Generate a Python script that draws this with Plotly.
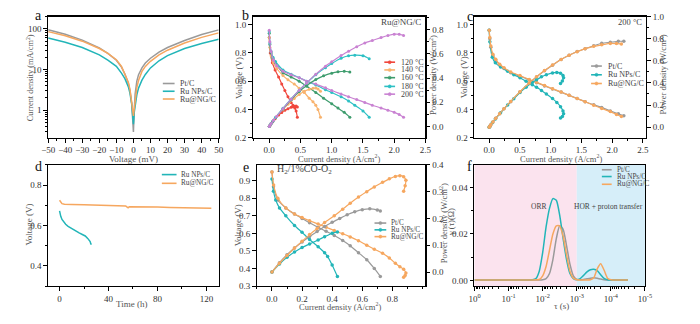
import plotly.graph_objects as go

W, H = 700, 324
FONT = "Liberation Serif"
TICK_C = "#333333"
TITLE_C = "#555555"

GRAY = "#9a9a9a"
TEAL = "#22b5b8"
ORANGE = "#f6a75f"

# ---------------- panel a : symmetric cell polarization ----------------
a_voltage = [-50, -40, -30, -20, -15, -10, -7, -5, -3, -2, -1, -0.5, 0,
             0.5, 1, 2, 3, 5, 7, 10, 15, 20, 30, 40, 50]
a_pt = [95, 74, 53, 34, 25, 17, 11.5, 7.8, 4.6, 3.0, 1.5, 0.8, 0.29,
        1.0, 2.5, 5.2, 7.5, 11, 14.5, 19, 27, 35, 52, 73, 95]
a_runp = [60, 47, 35, 23, 17, 12, 8.2, 6.0, 3.8, 2.6, 1.4, 0.9, 0.45,
          0.9, 1.3, 2.4, 3.5, 5.5, 7.6, 11, 16.5, 22, 33, 44, 56]
a_rung = [86, 68, 50, 33, 25, 17.5, 12, 8.0, 4.9, 3.2, 1.7, 1.1, 0.72,
          1.1, 1.9, 3.6, 5.4, 9.0, 12, 16, 23, 30, 45, 62, 80]

# ---------------- panel b : Ru@NG/C at different temperatures ----------------
b_j120 = [0, 0.016, 0.05, 0.094, 0.15, 0.2, 0.25, 0.3, 0.35, 0.38, 0.41, 0.43, 0.45]
b_v120 = [0.91, 0.80, 0.73, 0.68, 0.63, 0.58, 0.535, 0.49, 0.45, 0.43, 0.41, 0.39, 0.345]
b_p120 = [0, 0.013, 0.037, 0.064, 0.095, 0.116, 0.134, 0.147, 0.158, 0.163, 0.168, 0.170, 0.160]

b_j140 = [0, 0.01, 0.03, 0.068, 0.12, 0.22, 0.3, 0.4, 0.48, 0.56, 0.64, 0.7, 0.745, 0.78, 0.82]
b_v140 = [0.91, 0.84, 0.78, 0.73, 0.69, 0.64, 0.61, 0.58, 0.55, 0.52, 0.48, 0.455, 0.43, 0.40, 0.345]
b_p140 = [0, 0.008, 0.023, 0.050, 0.083, 0.141, 0.183, 0.232, 0.264, 0.291, 0.307, 0.315, 0.317, 0.31, 0.29]

b_j160 = [0, 0.01, 0.03, 0.06, 0.1, 0.22, 0.35, 0.48, 0.6, 0.745, 0.87, 1.0, 1.1, 1.2, 1.29]
b_v160 = [0.94, 0.86, 0.80, 0.76, 0.73, 0.66, 0.63, 0.60, 0.565, 0.52, 0.48, 0.44, 0.41, 0.38, 0.345]
b_p160 = [0, 0.009, 0.024, 0.046, 0.073, 0.145, 0.22, 0.288, 0.339, 0.387, 0.418, 0.44, 0.451, 0.456, 0.450]

b_j180 = [0, 0.01, 0.03, 0.06, 0.1, 0.22, 0.35, 0.48, 0.6, 0.745, 0.9, 1.0, 1.15, 1.27, 1.37, 1.5, 1.6]
b_v180 = [0.95, 0.87, 0.81, 0.77, 0.74, 0.68, 0.65, 0.625, 0.60, 0.573, 0.54, 0.52, 0.49, 0.46, 0.43, 0.39, 0.345]
b_p180 = [0, 0.009, 0.024, 0.046, 0.074, 0.150, 0.228, 0.30, 0.36, 0.427, 0.486, 0.52, 0.564, 0.584, 0.589, 0.585, 0.56]

b_j200 = [0, 0.01, 0.03, 0.068, 0.12, 0.22, 0.35, 0.48, 0.6, 0.745, 0.9, 1.0, 1.15, 1.27,
          1.4, 1.53, 1.65, 1.79, 1.9, 2.0, 2.08, 2.15]
b_v200 = [0.96, 0.88, 0.81, 0.75, 0.71, 0.67, 0.645, 0.625, 0.60, 0.58, 0.553, 0.534, 0.51, 0.49,
          0.47, 0.45, 0.43, 0.41, 0.395, 0.38, 0.365, 0.345]
b_p200 = [0, 0.009, 0.024, 0.051, 0.085, 0.147, 0.226, 0.30, 0.36, 0.432, 0.498, 0.534, 0.587, 0.622,
          0.658, 0.689, 0.71, 0.734, 0.751, 0.762, 0.761, 0.752]

# ---------------- panel c : 200 °C comparison ----------------
c_j_pt = [0, 0.01, 0.026, 0.06, 0.106, 0.17, 0.24, 0.35, 0.5, 0.65, 0.77, 0.9, 1.03, 1.17,
          1.3, 1.43, 1.56, 1.7, 1.83, 1.97, 2.1, 2.19]
c_v_pt = [0.96, 0.90, 0.84, 0.78, 0.75, 0.715, 0.69, 0.66, 0.636, 0.61, 0.59, 0.567, 0.545, 0.523,
          0.50, 0.478, 0.455, 0.433, 0.415, 0.39, 0.37, 0.355]
c_p_pt = [0, 0.009, 0.022, 0.047, 0.080, 0.122, 0.166, 0.231, 0.318, 0.397, 0.454, 0.510, 0.561, 0.612,
          0.65, 0.684, 0.71, 0.736, 0.759, 0.768, 0.777, 0.777]

c_j_ng = [0, 0.01, 0.026, 0.06, 0.106, 0.17, 0.24, 0.35, 0.5, 0.65, 0.77, 0.9, 1.03, 1.17,
          1.3, 1.43, 1.56, 1.7, 1.83, 1.97, 2.07, 2.15]
c_v_ng = [0.96, 0.91, 0.85, 0.79, 0.755, 0.72, 0.695, 0.665, 0.64, 0.613, 0.593, 0.57, 0.547, 0.524,
          0.50, 0.477, 0.455, 0.43, 0.407, 0.385, 0.365, 0.35]
c_p_ng = [0, 0.009, 0.022, 0.047, 0.080, 0.122, 0.167, 0.233, 0.32, 0.399, 0.457, 0.513, 0.563, 0.613,
          0.65, 0.682, 0.71, 0.731, 0.745, 0.758, 0.756, 0.753]

c_j_np = [0, 0.01, 0.05, 0.1, 0.185, 0.3, 0.4, 0.5, 0.6, 0.7, 0.77, 0.85, 0.93, 1.03,
          1.1, 1.16, 1.2, 1.21, 1.19, 1.16]
c_v_np = [0.96, 0.88, 0.77, 0.73, 0.70, 0.67, 0.645, 0.625, 0.60, 0.575, 0.557, 0.535, 0.51, 0.477,
          0.45, 0.42, 0.39, 0.37, 0.35, 0.34]
c_p_np = [0, 0.009, 0.039, 0.073, 0.130, 0.201, 0.258, 0.313, 0.36, 0.403, 0.429, 0.455, 0.474, 0.491,
          0.495, 0.487, 0.468, 0.448, 0.417, 0.394]

# ---------------- panel d : durability ----------------
d_t_np = [0, 0.5, 1, 2, 3, 5, 7, 10, 13, 16, 19, 21, 23, 24, 25, 25.5, 26]
d_v_np = [0.672, 0.655, 0.645, 0.63, 0.62, 0.606, 0.596, 0.584, 0.573, 0.563, 0.554, 0.548,
          0.536, 0.530, 0.52, 0.51, 0.505]
d_t_ng = [0, 1, 2, 4, 6, 10, 20, 30, 40, 50, 54, 55, 56, 57, 60, 70, 80, 90, 100, 110, 124]
d_v_ng = [0.725, 0.715, 0.708, 0.705, 0.704, 0.704, 0.703, 0.702, 0.700, 0.698, 0.697, 0.692,
          0.688, 0.693, 0.693, 0.692, 0.691, 0.689, 0.687, 0.686, 0.685]

# ---------------- panel e : H2/1%CO-O2 ----------------
e_j_pt = [0, 0.01, 0.039, 0.092, 0.15, 0.2, 0.25, 0.307, 0.36, 0.414, 0.47, 0.52, 0.575, 0.63, 0.68, 0.72]
e_v_pt = [0.95, 0.865, 0.79, 0.745, 0.71, 0.685, 0.66, 0.634, 0.612, 0.588, 0.56, 0.53, 0.49, 0.45, 0.40, 0.355]
e_jp_pt = [0, 0.05, 0.1, 0.15, 0.2, 0.25, 0.3, 0.35, 0.4, 0.45, 0.5, 0.55, 0.6, 0.65, 0.7, 0.72]
e_p_pt = [0, 0.035, 0.065, 0.09, 0.112, 0.133, 0.152, 0.17, 0.186, 0.2, 0.214, 0.225, 0.233, 0.236, 0.232, 0.228]

e_j_np = [0, 0.01, 0.025, 0.05, 0.092, 0.15, 0.2, 0.25, 0.307, 0.35, 0.37, 0.4, 0.435]
e_v_np = [0.91, 0.84, 0.79, 0.745, 0.70, 0.645, 0.606, 0.565, 0.524, 0.49, 0.468, 0.42, 0.354]
e_jp_np = [0, 0.05, 0.1, 0.15, 0.2, 0.25, 0.307, 0.35, 0.4, 0.435]
e_p_np = [0, 0.03, 0.055, 0.075, 0.092, 0.105, 0.12, 0.132, 0.145, 0.15]

e_j_ng = [0, 0.011, 0.039, 0.092, 0.15, 0.2, 0.25, 0.307, 0.36, 0.414, 0.47, 0.52, 0.575, 0.63,
          0.68, 0.735, 0.78, 0.82, 0.85, 0.875, 0.89, 0.885, 0.875]
e_v_ng = [0.95, 0.875, 0.80, 0.745, 0.71, 0.69, 0.672, 0.653, 0.635, 0.616, 0.598, 0.58, 0.558, 0.533,
          0.51, 0.487, 0.46, 0.43, 0.41, 0.395, 0.375, 0.36, 0.35]
e_jp_ng = [0, 0.05, 0.1, 0.15, 0.2, 0.25, 0.3, 0.35, 0.414, 0.47, 0.52, 0.575, 0.63, 0.68,
           0.735, 0.78, 0.82, 0.85, 0.875, 0.89, 0.885, 0.875]
e_p_ng = [0, 0.033, 0.062, 0.09, 0.115, 0.14, 0.163, 0.185, 0.21, 0.235, 0.257, 0.28, 0.3, 0.318,
          0.335, 0.348, 0.357, 0.36, 0.356, 0.343, 0.322, 0.302]

# ---------------- panel f : DRT ----------------
f_log_tau = [0, -0.5, -1.0, -1.5, -1.7, -1.8, -1.9, -2.0, -2.1, -2.2, -2.3, -2.4, -2.5, -2.6, -2.7,
             -2.8, -2.9, -3.0, -3.1, -3.2, -3.3, -3.4, -3.5, -3.6, -3.7, -3.8, -3.9, -4.0, -4.2, -4.5]
f_pt = [0.0002, 0.0002, 0.0002, 0.0002, 0.0002, 0.0002, 0.0002, 0.0003, 0.0008, 0.003, 0.009, 0.018,
        0.0235, 0.022, 0.015, 0.007, 0.002, 0.0005, 0.0003, 0.0004, 0.0007, 0.001, 0.0012, 0.001,
        0.0006, 0.0003, 0.0002, 0.0002, 0.0002, 0.0002]
f_np = [0.0002, 0.0002, 0.0002, 0.0002, 0.0003, 0.0008, 0.004, 0.012, 0.023, 0.031, 0.0352, 0.0345,
        0.028, 0.018, 0.009, 0.003, 0.0008, 0.0003, 0.0008, 0.0022, 0.0037, 0.0046, 0.0048, 0.0042,
        0.0025, 0.0009, 0.0003, 0.0002, 0.0002, 0.0002]
f_ng = [0.0002, 0.0002, 0.0002, 0.0002, 0.0002, 0.0003, 0.0004, 0.002, 0.006, 0.013, 0.020, 0.0235,
        0.0235, 0.019, 0.011, 0.004, 0.001, 0.0003, 0.0002, 0.0002, 0.0002, 0.0003, 0.0012, 0.005,
        0.0072, 0.0045, 0.001, 0.0003, 0.0002, 0.0002]
f_tau = [10 ** v for v in f_log_tau]

# ---------------- layout helpers ----------------
def fx(x):
    return x / W


def fy(y):
    return 1 - y / H


def dom_x(a, b):
    return [fx(a), fx(b)]


def dom_y(top, bottom):
    return [fy(bottom), fy(top)]


TOP = dom_y(12, 137)
BOT = dom_y(165, 290)


def ax(**kw):
    d = dict(showline=True, linecolor="black", linewidth=1.4, mirror=True, ticks="outside",
             ticklen=3.5, tickwidth=1, tickcolor="black", showgrid=False, zeroline=False,
             tickfont=dict(family=FONT, size=9, color=TICK_C))
    d.update(kw)
    return d


fig = go.Figure()


def line(x, y, color, xa, ya, width=1.5, markers=False, shape="linear", msize=3.5):
    fig.add_trace(go.Scatter(
        x=x, y=y, xaxis=xa, yaxis=ya, showlegend=False,
        mode="lines+markers" if markers else "lines",
        line=dict(color=color, width=width, shape=shape, smoothing=0.6),
        marker=dict(size=msize, color=color),
        hoverinfo="skip"))


# panel a
line(a_voltage, a_pt, GRAY, "x", "y")
line(a_voltage, a_runp, TEAL, "x", "y")
line(a_voltage, a_rung, ORANGE, "x", "y")

# panel b
b_sets = [("120 °C", "#f0473d", b_j120, b_v120, b_p120),
          ("140 °C", "#f8b36e", b_j140, b_v140, b_p140),
          ("160 °C", "#3e9c6d", b_j160, b_v160, b_p160),
          ("180 °C", "#2cc0c4", b_j180, b_v180, b_p180),
          ("200 °C", "#c982d2", b_j200, b_v200, b_p200)]
for name, col, j, v, p in b_sets:
    line(j, v, col, "x2", "y2", width=1.2, markers=True, shape="spline", msize=3)
    line(j, p, col, "x2", "y3", width=1.2, markers=True, shape="spline", msize=3)

# panel c
for col, j, v, p in [(GRAY, c_j_pt, c_v_pt, c_p_pt), (TEAL, c_j_np, c_v_np, c_p_np),
                     (ORANGE, c_j_ng, c_v_ng, c_p_ng)]:
    line(j, v, col, "x3", "y4", width=1.2, markers=True, shape="spline", msize=3.5)
    line(j, p, col, "x3", "y5", width=1.2, markers=True, shape="spline", msize=3.5)

# panel d
line(d_t_np, d_v_np, TEAL, "x4", "y6")
line(d_t_ng, d_v_ng, ORANGE, "x4", "y6")

# panel e
line(e_j_pt, e_v_pt, GRAY, "x5", "y7", width=1.2, markers=True, shape="spline", msize=3.5)
line(e_jp_pt, e_p_pt, GRAY, "x5", "y8", width=1.2, markers=True, shape="spline", msize=3.5)
line(e_j_np, e_v_np, TEAL, "x5", "y7", width=1.2, markers=True, shape="spline", msize=3.5)
line(e_jp_np, e_p_np, TEAL, "x5", "y8", width=1.2, markers=True, shape="spline", msize=3.5)
line(e_j_ng, e_v_ng, ORANGE, "x5", "y7", width=1.2, markers=True, shape="spline", msize=3.5)
line(e_jp_ng, e_p_ng, ORANGE, "x5", "y8", width=1.2, markers=True, shape="spline", msize=3.5)

# panel f
line(f_tau, f_pt, GRAY, "x6", "y9", shape="spline")
line(f_tau, f_np, TEAL, "x6", "y9", shape="spline")
line(f_tau, f_ng, ORANGE, "x6", "y9", shape="spline")

shapes = []
annotations = []

# f background regions (domain fractions: 3 of 5 decades pink)
shapes.append(dict(type="rect", xref="x6 domain", yref="y9 domain", x0=0, x1=0.6, y0=0, y1=1,
                   fillcolor="#fbe3ee", line=dict(width=0), layer="below"))
shapes.append(dict(type="rect", xref="x6 domain", yref="y9 domain", x0=0.6, x1=1, y0=0, y1=1,
                   fillcolor="#d6eef9", line=dict(width=0), layer="below"))


def txt(x, y, text, size=9, color=TITLE_C, angle=0, xanchor="center", family=FONT):
    annotations.append(dict(x=fx(x), y=fy(y), xref="paper", yref="paper", text=text,
                            showarrow=False, textangle=angle, xanchor=xanchor, yanchor="middle",
                            font=dict(family=family, size=size, color=color)))


def legend(entries, x0, x1, xt, ys, marker=False, size=7.2):
    for (name, col), y in zip(entries, ys):
        shapes.append(dict(type="line", xref="paper", yref="paper", x0=fx(x0), x1=fx(x1),
                           y0=fy(y), y1=fy(y), line=dict(color=col, width=1.6)))
        if marker:
            xm = (x0 + x1) / 2
            shapes.append(dict(type="circle", xref="paper", yref="paper",
                               x0=fx(xm - 1.6), x1=fx(xm + 1.6), y0=fy(y + 1.6), y1=fy(y - 1.6),
                               fillcolor=col, line=dict(color=col, width=0.5)))
        txt(xt, y, name, size=size, color="#444444", xanchor="left")


three = [("Pt/C", GRAY), ("Ru NPs/C", TEAL), ("Ru@NG/C", ORANGE)]
legend(three, 159, 171, 174, [81, 89, 97], size=8)
legend([(n, c) for n, c, *_ in b_sets], 385, 396, 400, [59, 67, 75, 84, 92], marker=True, size=8)
legend(three, 596, 607, 611, [63, 72, 81], marker=True, size=8)
legend(three[1:], 158, 173, 176, [175, 184])
legend(three, 375, 387, 390, [225, 232, 239], marker=True)
legend(three, 607, 617, 620, [170, 177, 185])

# panel letters
for lx, ly, lt in [(32, 11, "a"), (243, 11, "b"), (472, 12, "c"),
                   (32, 167, "d"), (244, 168, "e"), (472, 167, "f")]:
    txt(lx, ly, lt, size=14, color="#111111")

# axis titles
txt(23, 75, "Current density (mA/cm<sup>2</sup>)", size=8.3, angle=-90)
txt(129, 159, "Voltage (mV)")
txt(236, 75, "Voltage (V)", angle=-90)
txt(435, 72, "Power density (W/cm<sup>2</sup>)", size=8.5, angle=-90)
txt(339, 158, "Current density (A/cm<sup>2</sup>)", size=8.5)
txt(466, 75, "Voltage (V)", angle=-90)
txt(670, 72, "Power density (W/cm<sup>2</sup>)", size=8.5, angle=-90)
txt(565, 158, "Current density (A/cm<sup>2</sup>)", size=8.5)
txt(22, 227, "Voltage (V)", angle=-90)
txt(127, 309, "Time (h)")
txt(236, 227, "Voltage (V)", angle=-90)
txt(445, 225, "Power density (W/cm<sup>2</sup>)", size=8.5, angle=-90)
txt(453, 224, "γ (τ)(Ω)", size=8.5, angle=-90)
txt(340, 311, "Current density (A/cm<sup>2</sup>)", size=8.5)
txt(566, 311, "τ (s)")

# in-panel labels
txt(424, 18, "Ru@NG/C", size=9, color="#444444", xanchor="right")
txt(650, 18, "200 °C", size=8.5, color="#444444", xanchor="right")
txt(273, 170, "H<sub>2</sub>/1%CO-O<sub>2</sub>", size=10, color="#444444", xanchor="left")
txt(542, 208, "ORR", size=7.5, color="#444444")
txt(614, 208, "HOR + proton transfer", size=7.5, color="#444444")

f_ticks = [1, 0.1, 0.01, 0.001, 0.0001, 0.00001]
f_ticktext = ["10<sup>0</sup>", "10<sup>-1</sup>", "10<sup>-2</sup>", "10<sup>-3</sup>",
              "10<sup>-4</sup>", "10<sup>-5</sup>"]

minor = dict(ticks="outside", ticklen=2, tickcolor="black")

fig.update_layout(
    width=W, height=H, margin=dict(l=0, r=0, t=0, b=0), autosize=False,
    paper_bgcolor="white", plot_bgcolor="rgba(0,0,0,0)", showlegend=False,
    font=dict(family=FONT),
    # a
    xaxis=ax(domain=dom_x(42, 216), anchor="y", range=[-50, 50], tickvals=list(range(-50, 51, 10)),
             minor=dict(minor, dtick=5)),
    yaxis=ax(domain=TOP, anchor="x", type="log", range=[-0.678, 2.303], tickvals=[1, 10, 100],
             ticktext=["1", "10", "100"], minor=dict(minor, dtick="D1")),
    # b
    xaxis2=ax(domain=dom_x(251, 427), anchor="y2", range=[-0.26, 2.5],
              tickvals=[0, 0.5, 1.0, 1.5, 2.0, 2.5], tickformat=".1f", minor=dict(minor, dtick=0.25)),
    yaxis2=ax(domain=TOP, anchor="x2", range=[0.2, 1.057], tickvals=[0.2, 0.4, 0.6, 0.8, 1.0],
              tickformat=".1f", minor=dict(minor, dtick=0.1)),
    yaxis3=ax(overlaying="y2", anchor="x2", side="right", range=[-0.093, 0.907],
              tickvals=[0, 0.2, 0.4, 0.6, 0.8], tickformat=".1f", mirror=False,
              minor=dict(minor, dtick=0.1)),
    # c
    xaxis3=ax(domain=dom_x(477, 652), anchor="y4", range=[-0.24, 2.55],
              tickvals=[0, 0.5, 1.0, 1.5, 2.0, 2.5], tickformat=".1f", minor=dict(minor, dtick=0.25)),
    yaxis4=ax(domain=TOP, anchor="x3", range=[0.2, 1.057], tickvals=[0.2, 0.4, 0.6, 0.8, 1.0],
              tickformat=".1f", minor=dict(minor, dtick=0.1)),
    yaxis5=ax(overlaying="y4", anchor="x3", side="right", range=[-0.096, 1.0],
              tickvals=[0, 0.2, 0.4, 0.6, 0.8, 1.0], tickformat=".1f", mirror=False,
              minor=dict(minor, dtick=0.1)),
    # d
    xaxis4=ax(domain=dom_x(42, 216), anchor="y6", range=[-9.3, 130], tickvals=[0, 40, 80, 120],
              minor=dict(minor, dtick=20)),
    yaxis6=ax(domain=BOT, anchor="x4", range=[0.3, 0.9], tickvals=[0.4, 0.6, 0.8], tickformat=".1f",
              minor=dict(minor, dtick=0.1)),
    # e
    xaxis5=ax(domain=dom_x(255, 427), anchor="y7", range=[-0.10, 1.02],
              tickvals=[0, 0.2, 0.4, 0.6, 0.8], tickformat=".1f", minor=dict(minor, dtick=0.1)),
    yaxis7=ax(domain=BOT, anchor="x5", range=[0.3, 0.99],
              tickvals=[0.3, 0.4, 0.5, 0.6, 0.7, 0.8, 0.9], tickformat=".1f"),
    yaxis8=ax(overlaying="y7", anchor="x5", side="right", range=[-0.052, 0.4],
              tickvals=[0, 0.1, 0.2, 0.3, 0.4], tickformat=".1f", mirror=False),
    # f
    xaxis6=ax(domain=dom_x(477, 651), anchor="y9", type="log", range=[0, -5],
              tickvals=f_ticks, ticktext=f_ticktext, minor=dict(minor, dtick="D1")),
    yaxis9=ax(domain=BOT, anchor="x6", range=[-0.0024, 0.0497], tickvals=[0, 0.02, 0.04],
              tickformat=".2f", minor=dict(minor, dtick=0.01)),
    shapes=shapes,
    annotations=annotations,
)

fig.write_html(
    "out.html",
    config={"displayModeBar": False, "staticPlot": True},
    post_script="document.body.style.margin='0';document.body.style.padding='0';"
                "document.body.style.overflow='hidden';",
)
